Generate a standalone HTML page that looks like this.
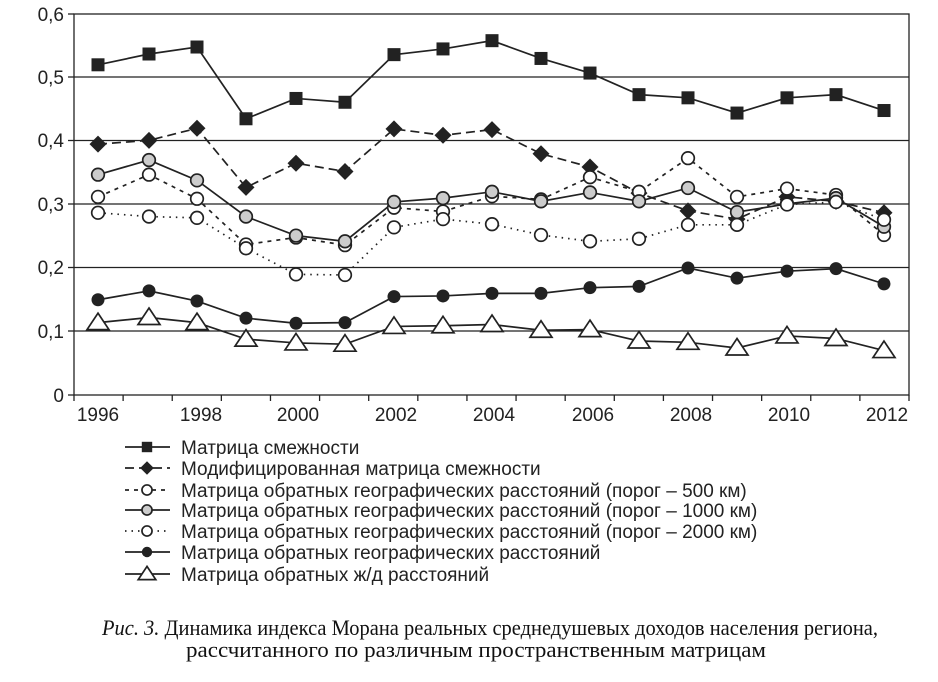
<!DOCTYPE html>
<html><head><meta charset="utf-8"><style>
html,body{margin:0;padding:0;background:#fff;}
svg{display:block;}
</style></head><body>
<svg id="c" width="938" height="682" xmlns="http://www.w3.org/2000/svg" font-family="Liberation Sans, sans-serif">
<g stroke="#222" stroke-width="1.3" fill="none">
<line x1="74" y1="77" x2="909" y2="77"/>
<line x1="74" y1="140.5" x2="909" y2="140.5"/>
<line x1="74" y1="204" x2="909" y2="204"/>
<line x1="74" y1="267.5" x2="909" y2="267.5"/>
<line x1="74" y1="331" x2="909" y2="331"/>
<rect x="74" y="14" width="835" height="381"/>
<line x1="68" y1="14" x2="74" y2="14"/><line x1="68" y1="77" x2="74" y2="77"/><line x1="68" y1="140.5" x2="74" y2="140.5"/><line x1="68" y1="204" x2="74" y2="204"/><line x1="68" y1="267.5" x2="74" y2="267.5"/><line x1="68" y1="331" x2="74" y2="331"/><line x1="68" y1="395" x2="74" y2="395"/>
</g>
<g id="xt" stroke="#222" stroke-width="1.3"></g>
<g font-size="19" fill="#222" text-anchor="end">
<text x="64" y="21">0,6</text><text x="64" y="84">0,5</text><text x="64" y="147">0,4</text><text x="64" y="211">0,3</text><text x="64" y="274">0,2</text><text x="64" y="338">0,1</text><text x="64" y="402">0</text>
</g>
<g font-size="19" fill="#222" text-anchor="middle">
<text x="98" y="421">1996</text><text x="201" y="421">1998</text><text x="298" y="421">2000</text><text x="396" y="421">2002</text><text x="494" y="421">2004</text><text x="593" y="421">2006</text><text x="691" y="421">2008</text><text x="789" y="421">2010</text><text x="887" y="421">2012</text>
</g>
<g id="series"></g>
<g id="leg"></g>
<g font-size="19" fill="#222">
<text x="181" y="454">Матрица смежности</text>
<text x="181" y="475">Модифицированная матрица смежности</text>
<text x="181" y="497">Матрица обратных географических расстояний (порог – 500 км)</text>
<text x="181" y="517">Матрица обратных географических расстояний (порог – 1000 км)</text>
<text x="181" y="538">Матрица обратных географических расстояний (порог – 2000 км)</text>
<text x="181" y="559">Матрица обратных географических расстояний</text>
<text x="181" y="581">Матрица обратных ж/д расстояний</text>
</g>
<g font-family="Liberation Serif, serif" font-size="22" fill="#111">
<text x="102" y="635" textLength="776" lengthAdjust="spacingAndGlyphs"><tspan font-style="italic">Рис. 3.</tspan> Динамика индекса Морана реальных среднедушевых доходов населения региона,</text>
<text x="186" y="657" textLength="580" lengthAdjust="spacingAndGlyphs">рассчитанного по различным пространственным матрицам</text>
</g>
</svg>
<script>
var NS="http://www.w3.org/2000/svg";
function el(p,n,a){var e=document.createElementNS(NS,n);for(var k in a)e.setAttribute(k,a[k]);p.appendChild(e);return e;}
var xt=document.getElementById('xt');
for(var i=0;i<=17;i++){var x=74+i*835/17;el(xt,'line',{x1:x,y1:395,x2:x,y2:401});}
var X=[98,149,197,246,296,345,394,443,492,541,590,639,688,737,787,836,884];
function Y(v){return 395-v*635;}
var S=[
{d:[.52,.537,.548,.435,.467,.461,.536,.545,.558,.530,.507,.473,.468,.444,.468,.473,.448],m:'sq',dash:'',f:'#222'},
{d:[.395,.401,.420,.327,.365,.352,.419,.409,.418,.380,.359,.318,.290,.277,.312,.305,.287],m:'di',dash:'9,5',f:'#222'},
{d:[.312,.347,.309,.237,.248,.236,.295,.289,.313,.308,.343,.320,.373,.312,.325,.315,.252],m:'ci',dash:'4,5',f:'#fff'},
{d:[.347,.370,.338,.281,.251,.242,.304,.310,.320,.305,.319,.305,.326,.288,.301,.310,.265],m:'ci',dash:'',f:'#ccc'},
{d:[.287,.281,.279,.231,.190,.189,.264,.277,.269,.252,.242,.246,.268,.268,.300,.304,.276],m:'ci',dash:'1.5,5',f:'#fff'},
{d:[.150,.164,.148,.121,.113,.114,.155,.156,.160,.160,.169,.171,.200,.184,.195,.199,.175],m:'dot',dash:'',f:'#222'},
{d:[.114,.122,.114,.088,.082,.080,.108,.109,.111,.102,.103,.085,.083,.074,.093,.089,.070],m:'tr',dash:'',f:'#fff'}];
function mark(g,m,x,y,f,s){
 if(m=='sq')el(g,'rect',{x:x-6.5*s,y:y-6.5*s,width:13*s,height:13*s,fill:'#222'});
 else if(m=='di')el(g,'polygon',{points:(x)+','+(y-8.5*s)+' '+(x+8.5*s)+','+y+' '+x+','+(y+8.5*s)+' '+(x-8.5*s)+','+y,fill:'#222'});
 else if(m=='dot')el(g,'circle',{cx:x,cy:y,r:6.5*s,fill:'#222'});
 else if(m=='ci')el(g,'circle',{cx:x,cy:y,r:6.3*s,fill:f,stroke:'#222','stroke-width':1.7});
 else el(g,'polygon',{points:x+','+(y-9.5*s)+' '+(x+11*s)+','+(y+7*s)+' '+(x-11*s)+','+(y+7*s),fill:'#fff',stroke:'#222','stroke-width':1.7});
}
var g=document.getElementById('series');
S.forEach(function(s){
 var p=s.d.map(function(v,i){return X[i]+','+Y(v);}).join(' ');
 var a={points:p,fill:'none',stroke:'#222','stroke-width':1.7};if(s.dash)a['stroke-dasharray']=s.dash;
 el(g,'polyline',a);
});
S.forEach(function(s){s.d.forEach(function(v,i){mark(g,s.m,X[i],Y(v),s.f,1);});});
var lg=document.getElementById('leg');
var LY=[447,468,490,510,531,552,574];
S.forEach(function(s,i){
 var a={x1:125,y1:LY[i],x2:170,y2:LY[i],stroke:'#222','stroke-width':1.7};if(s.dash)a['stroke-dasharray']=s.dash;
 el(lg,'line',a);mark(lg,s.m,147,LY[i],s.f,0.8);
});
</script>
</body></html>
